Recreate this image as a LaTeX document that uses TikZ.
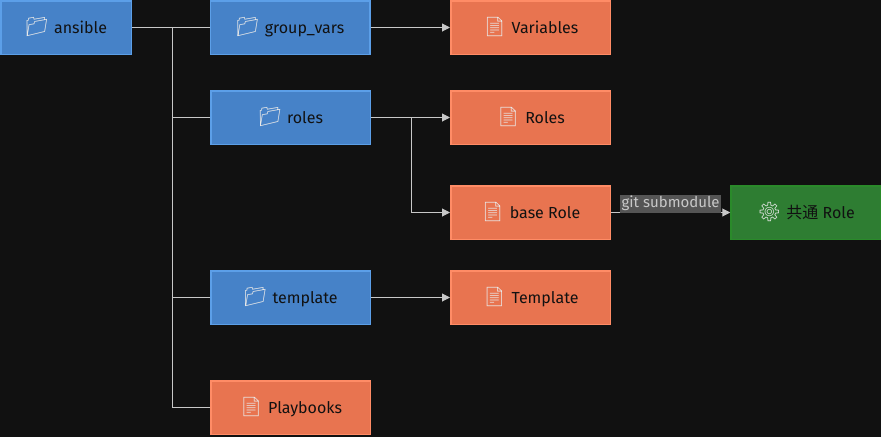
\documentclass[tikz,border=0pt]{standalone}
\usepackage{fontspec}
\setmainfont{Fira Sans}
\newfontfamily\emoji{Noto Emoji}
\newfontfamily\cjk{Noto Sans CJK JP}
\usetikzlibrary{arrows.meta}

\definecolor{bgdark}{HTML}{111111}
\definecolor{dirblue}{HTML}{4682C8}
\definecolor{dirline}{HTML}{5C9FE8}
\definecolor{fileorange}{HTML}{E87450}
\definecolor{fileline}{HTML}{FF8C66}
\definecolor{subgreen}{HTML}{2E7D32}
\definecolor{subline}{HTML}{2A8A2A}
\definecolor{linkgray}{HTML}{C8C8C8}
\definecolor{labelbg}{HTML}{555555}
\definecolor{icongray}{HTML}{E8E8E8}
\definecolor{textdark}{HTML}{111111}

\newcommand{\diricon}{{\emoji\fontsize{19}{19}\selectfont\color{icongray}📁}\hspace{5pt}}
\newcommand{\fileicon}{{\emoji\fontsize{19}{19}\selectfont\color{icongray}📄}\hspace{5pt}}
\newcommand{\gearicon}{{\emoji\fontsize{19}{19}\selectfont\color{icongray}⚙}\hspace{5pt}}

\tikzset{
  box/.style={draw, line width=1.5pt, minimum width=159.5pt, minimum height=53.5pt,
    inner sep=0pt, text=textdark, font=\fontsize{16}{19}\selectfont},
  dirbox/.style={box, fill=dirblue, draw=dirline},
  filebox/.style={box, fill=fileorange, draw=fileline},
  subbox/.style={box, fill=subgreen, draw=subline},
  link/.style={draw, line width=1pt, linkgray},
  arrow/.style={link, -{Triangle[length=8pt,width=8pt]}},
}

\begin{document}
\begin{tikzpicture}[x=1pt,y=-1pt]
\fill[bgdark] (0,0) rectangle (881,437);
\useasboundingbox (0,0) rectangle (881,437);

\node[dirbox, minimum width=130.5pt] (ansible) at (66,27.5) {\diricon ansible};
\node[dirbox] (groupvars) at (290,27.5) {\diricon group\_vars};
\node[dirbox] (roles) at (290.5,117.5) {\diricon roles};
\node[dirbox] (template) at (290.5,297.5) {\diricon template};
\node[filebox] (playbooks) at (290.5,407.5) {\fileicon Playbooks};

\node[filebox] (variables) at (530.5,27.5) {\fileicon Variables};
\node[filebox] (rolesfile) at (530.5,117.5) {\fileicon Roles};
\node[filebox] (baserole) at (530.5,212.5) {\fileicon base Role};
\node[filebox] (templatefile) at (530.5,297.5) {\fileicon Template};
\node[subbox, minimum width=150pt] (commonrole) at (806,212.5) {\gearicon{\cjk 共通} Role};

\coordinate (trunk) at (172,27.5);
\coordinate (rolesplit) at (411,117.5);

\path[link] (ansible) -- (groupvars);
\path[link] (trunk) |- (roles.west);
\path[link] (trunk) |- (template.west);
\path[link] (trunk) |- (playbooks.west);

\path[arrow] (groupvars) -- (variables);
\path[arrow] (roles) -- (rolesfile);
\path[arrow] (rolesplit) |- (baserole.west);
\path[arrow] (template) -- (templatefile);
\path[arrow] (baserole) -- node[midway, above, fill=labelbg, text=linkgray, inner sep=1.5pt,
  yshift=-0.5pt, font=\fontsize{15}{17}\selectfont] (gitlabel) {git submodule} (commonrole);
\end{tikzpicture}
\end{document}
